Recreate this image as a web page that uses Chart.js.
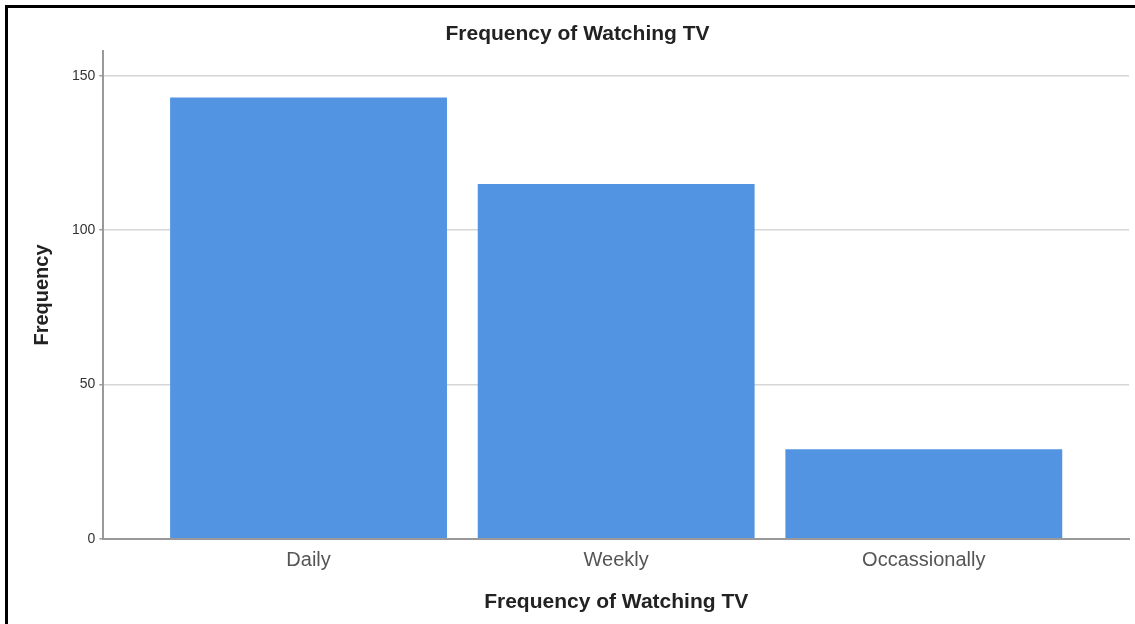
<!DOCTYPE html>
<html>
<head>
<meta charset="utf-8">
<script src="https://cdn.jsdelivr.net/npm/chart.js@4.4.1/dist/chart.umd.min.js"></script>
<style>
    html, body { margin: 0; padding: 0; background: #fff; }
    #wrap { position: relative; width: 1135px; height: 624px; overflow: hidden; }
    #frame { position: absolute; left: 5px; top: 5px; width: 1200px; height: 700px;
             border-left: 3px solid #000; border-top: 3px solid #000; pointer-events: none; }
    canvas { position: absolute; left: 0; top: 0; }
</style>
</head>
<body>
<div id="wrap">
    <canvas id="plot" width="1135" height="624"></canvas>
    <div id="frame"></div>
</div>
<script>
const categories = ['Daily', 'Weekly', 'Occassionally'];
const frequencies = [143, 115, 29];
const yTicks = [0, 50, 100, 150];

const ctx = document.getElementById('plot').getContext('2d');
const chart = new Chart(ctx, {
    type: 'bar',
    data: {
        datasets: [{
            label: 'Frequency',
            data: frequencies.map((v, i) => ({ x: i, y: v })),
            backgroundColor: '#5294e2',
            borderWidth: 0,
            barPercentage: 0.9,
            categoryPercentage: 1
        }]
    },
    options: {
        responsive: false,
        animation: false,
        layout: { padding: { left: 26, right: 6, top: 0, bottom: 5 } },
        plugins: {
            legend: { display: false },
            tooltip: { enabled: false },
            title: {
                display: true,
                text: 'Frequency of Watching TV',
                color: '#222',
                font: { family: 'Liberation Sans, Arial', size: 21, weight: 'bold' },
                padding: { top: 22, bottom: 4 }
            }
        },
        scales: {
            x: {
                type: 'linear',
                offset: false,
                min: -0.667,
                max: 2.667,
                afterBuildTicks: axis => { axis.ticks = categories.map((c, i) => ({ value: i })); },
                ticks: {
                    callback: v => categories[v],
                    color: '#555',
                    font: { family: 'Liberation Sans, Arial', size: 20 },
                    padding: 2
                },
                grid: { display: false },
                border: { color: '#999', width: 2 },
                title: {
                    display: true,
                    text: 'Frequency of Watching TV',
                    color: '#222',
                    font: { family: 'Liberation Sans, Arial', size: 21, weight: 'bold' },
                    padding: { top: 15 }
                }
            },
            y: {
                min: 0,
                max: 158,
                afterBuildTicks: axis => { axis.ticks = yTicks.map(v => ({ value: v })); },
                ticks: {
                    color: '#333',
                    font: { family: 'Liberation Sans, Arial', size: 14 },
                    padding: 4
                },
                grid: { color: '#d6d6d6', lineWidth: 1.5, tickColor: '#999', tickLength: 4 },
                border: { color: '#999', width: 2 },
                title: {
                    display: true,
                    text: 'Frequency',
                    color: '#222',
                    font: { family: 'Liberation Sans, Arial', size: 20, weight: 'bold' },
                    padding: { bottom: 14 }
                }
            }
        }
    }
});
</script>
</body>
</html>
